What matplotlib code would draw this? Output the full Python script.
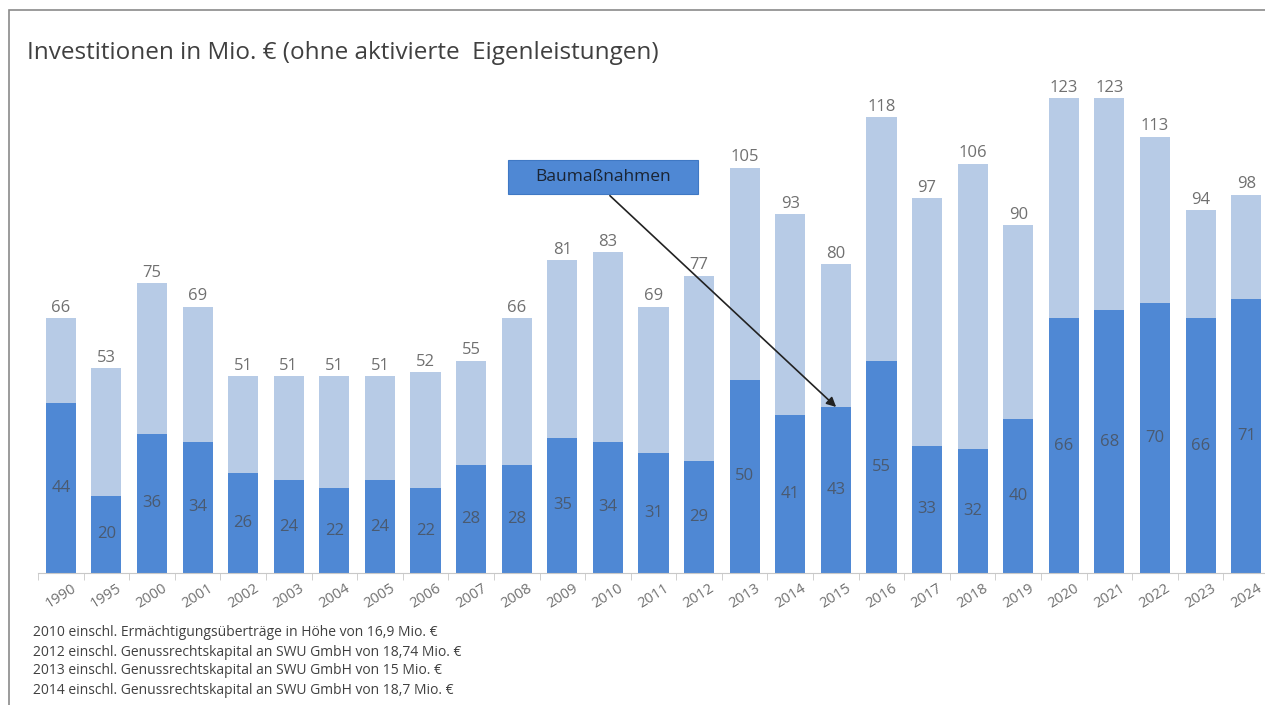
import matplotlib.pyplot as plt
from matplotlib.patches import Rectangle
import numpy as np

years = ["1990", "1995", "2000", "2001", "2002", "2003", "2004", "2005", "2006",
         "2007", "2008", "2009", "2010", "2011", "2012", "2013", "2014", "2015",
         "2016", "2017", "2018", "2019", "2020", "2021", "2022", "2023", "2024"]
gesamt = [66, 53, 75, 69, 51, 51, 51, 51, 52, 55, 66, 81, 83, 69, 77, 105, 93, 80,
          118, 97, 106, 90, 123, 123, 113, 94, 98]
baumassnahmen = [44, 20, 36, 34, 26, 24, 22, 24, 22, 28, 28, 35, 34, 31, 29, 50, 41, 43,
                 55, 33, 32, 40, 66, 68, 70, 66, 71]
notes = ["2010 einschl. Ermächtigungsüberträge in Höhe von 16,9 Mio. €",
         "2012 einschl. Genussrechtskapital an SWU GmbH von 18,74 Mio. €",
         "2013 einschl. Genussrechtskapital an SWU GmbH von 15 Mio. €",
         "2014 einschl. Genussrechtskapital an SWU GmbH von 18,7 Mio. €"]

plt.rcParams['font.family'] = ['Open Sans', 'DejaVu Sans']

light = "#b7cbe6"
dark = "#4f88d4"
grey = "#707070"

fig = plt.figure(figsize=(12.65, 7.05), dpi=100)
ax = fig.add_axes([38/1265, 132/705, 1231/1265, 502/705])

x = np.arange(len(years))
ax.bar(x, gesamt, width=0.66, color=light)
ax.bar(x, baumassnahmen, width=0.66, color=dark)

for i in range(len(years)):
	ax.text(x[i], gesamt[i] + 0.6, str(gesamt[i]), ha="center", va="bottom",
	        fontsize=12, color=grey)
	ax.text(x[i], baumassnahmen[i] / 2, str(baumassnahmen[i]), ha="center", va="center",
	        fontsize=12, color="#4a5a70")

ax.set_xlim(-0.5, len(years) - 0.5)
ax.set_ylim(0, 130)
ax.set_xticks(x)
ax.set_xticklabels(years, rotation=32, fontsize=10.5, color=grey)
ax.set_xticks(np.arange(len(years) + 1) - 0.5, minor=True)
ax.tick_params(axis="x", which="major", length=0, pad=6)
ax.tick_params(axis="x", which="minor", length=5, color="#c8c8c8")
ax.set_yticks([])
for s in ["top", "right", "left"]:
	ax.spines[s].set_visible(False)
ax.spines["bottom"].set_color("#c8c8c8")

# label box with arrow
ax.add_patch(Rectangle((9.81, 98.2), 4.16, 8.8, facecolor=dark, edgecolor="#3f78c4",
                       lw=0.8, clip_on=False, zorder=5))
ax.text(11.89, 102.6, "Baumaßnahmen", ha="center", va="center", fontsize=12.5,
        color="#1a2433", zorder=6)
ax.annotate("", xy=(17.05, 42.5), xytext=(12.0, 98.2),
            arrowprops=dict(arrowstyle="-|>", color="#222222", lw=1.2,
                            mutation_scale=14), zorder=6)

fig.text(27/1265, 1 - 53/705, "Investitionen in Mio. € (ohne aktivierte  Eigenleistungen)",
         fontsize=17.5, color="#404040", va="center")
for k, n in enumerate(notes):
	fig.text(33/1265, 1 - (633 + 19 * k) / 705, n, fontsize=10, color="#404040", va="center")

# frame round the picture
fig.add_artist(Rectangle((9/1265, -0.01), 1.1, 1 - 10/705 + 0.01, transform=fig.transFigure,
                         fill=False, edgecolor="#8a8a8a", lw=1.2))

plt.savefig("out.png", dpi=100)
